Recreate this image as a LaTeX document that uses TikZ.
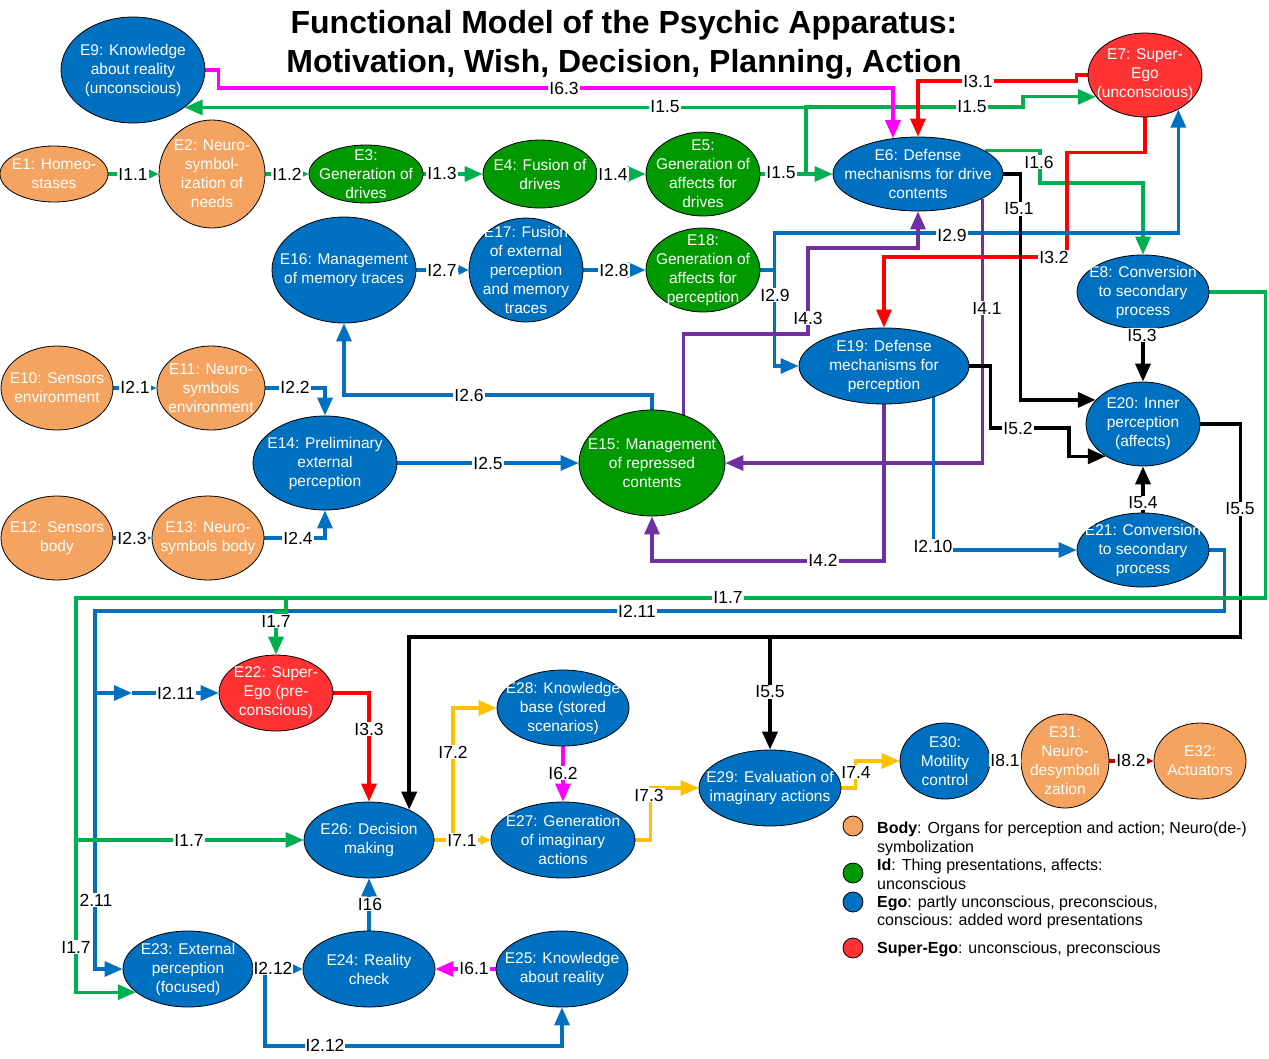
\documentclass[tikz,border=0pt]{standalone}
\usepackage{fontspec}
\setmainfont{Liberation Sans}
\usetikzlibrary{shapes.geometric,arrows.meta}

\definecolor{bodyc}{HTML}{F4A460}
\definecolor{idc}{HTML}{009900}
\definecolor{egoc}{HTML}{0070C0}
\definecolor{supc}{HTML}{FF3333}
\definecolor{cgreen}{HTML}{00B050}
\definecolor{cblue}{HTML}{0070C0}
\definecolor{cmag}{HTML}{FF00FF}
\definecolor{cred}{HTML}{FF0000}
\definecolor{cpurp}{HTML}{7030A0}
\definecolor{cyel}{HTML}{FFC000}
\definecolor{cdred}{HTML}{C00000}

\pgfdeclarelayer{edges}
\pgfdeclarelayer{labels}
\pgfsetlayers{edges,main,labels}

\tikzset{
  entshape/.style={ellipse,draw=black,line width=0.8pt,inner sep=0pt},
  enttext/.style={text=white,align=center,inner sep=0pt,font=\fontsize{15.5}{19}\selectfont},
  lbl/.style={fill=white,inner sep=1pt,text=black,font=\fontsize{17.5}{19}\selectfont},
  conn/.style={line width=3.2pt},
  bconn/.style={line width=3.6pt},
  big/.style={-{Triangle[length=18pt,width=15pt]}},
  sml/.style={-{Triangle[length=10pt,width=9pt]}},
  legdot/.style={circle,draw=black,line width=0.8pt,minimum size=20pt,inner sep=0pt},
  legtext/.style={anchor=base west,inner sep=0pt,font=\fontsize{16}{19}\selectfont},
}

% entity: name, x, y, rx, ry, fill, text
\newcommand\psyent[7]{%
  \node[entshape,fill=#6,minimum width=2*#4pt,minimum height=2*#5pt] (#1) at (#2,#3) {};
  \node[enttext] (#1-t) at (#1.center) {#7};}
% connector label: name, x, y, text
\newcommand\conlabel[4]{\node[lbl] (#1) at (#2,#3) {#4};}

\begin{document}
\begin{tikzpicture}[x=1pt,y=-1pt]
\useasboundingbox (0,0) rectangle (1269,1058);

% ---------- title ----------
\node[anchor=base,inner sep=0pt,font=\fontsize{32}{38}\selectfont\bfseries] (title1) at (624,33) {Functional Model of the Psychic Apparatus:};
\node[anchor=base,inner sep=0pt,font=\fontsize{32}{38}\selectfont\bfseries] (title2) at (624,72) {Motivation, Wish, Decision, Planning, Action};

% ---------- entities ----------
\psyent{E9}{133}{70}{72}{53}{egoc}{E9: Knowledge\\about reality\\(unconscious)}
\psyent{E1}{54}{174}{54}{28}{bodyc}{E1: Homeo-\\stases}
\psyent{E2}{212}{174}{53}{54}{bodyc}{E2: Neuro-\\symbol-\\ization of\\needs}
\psyent{E3}{366}{174}{57}{29}{idc}{E3:\\Generation of\\drives}
\psyent{E4}{540}{174}{57}{34}{idc}{E4: Fusion of\\drives}
\psyent{E5}{703}{174}{57}{42}{idc}{E5:\\Generation of\\affects for\\drives}
\psyent{E6}{918}{174}{85}{37}{egoc}{E6: Defense\\mechanisms for drive\\contents}
\psyent{E7}{1145}{75}{57}{42}{supc}{E7: Super-\\Ego\\(unconscious)}
\psyent{E8}{1143}{292}{66}{37}{egoc}{E8: Conversion\\to secondary\\process}
\psyent{E16}{344}{270}{72}{53}{egoc}{E16: Management\\of memory traces}
\psyent{E17}{526}{270}{57}{52}{egoc}{E17: Fusion\\of external\\perception\\and memory\\traces}
\psyent{E18}{703}{270}{57}{42}{idc}{E18:\\Generation of\\affects for\\perception}
\psyent{E19}{884}{366}{85}{38}{egoc}{E19: Defense\\mechanisms for\\perception}
\psyent{E20}{1143}{424}{57}{42}{egoc}{E20: Inner\\perception\\(affects)}
\psyent{E21}{1143}{550}{66}{37}{egoc}{E21: Conversion\\to secondary\\process}
\psyent{E10}{57}{388}{56}{42}{bodyc}{E10: Sensors\\environment}
\psyent{E11}{211}{388}{54}{42}{bodyc}{E11: Neuro-\\symbols\\environment}
\psyent{E12}{57}{538}{56}{42}{bodyc}{E12: Sensors\\body}
\psyent{E13}{208}{538}{56}{42}{bodyc}{E13: Neuro-\\symbols body}
\psyent{E14}{325}{463}{72}{47}{egoc}{E14: Preliminary\\external\\perception}
\psyent{E15}{652}{463}{73}{53}{idc}{E15: Management\\of repressed\\contents}
\psyent{E22}{276}{693}{57}{38}{supc}{E22: Super-\\Ego (pre-\\conscious)}
\psyent{E26}{369}{840}{65}{38}{egoc}{E26: Decision\\making}
\psyent{E23}{188}{969}{65}{38}{egoc}{E23: External\\perception\\(focused)}
\psyent{E24}{369}{969}{66}{38}{egoc}{E24: Reality\\check}
\psyent{E25}{562}{969}{66}{38}{egoc}{E25: Knowledge\\about reality}
\psyent{E28}{563}{708}{66}{38}{egoc}{E28: Knowledge\\base (stored\\scenarios)}
\psyent{E27}{563}{840}{72}{38}{egoc}{E27: Generation\\of imaginary\\actions}
\psyent{E29}{770}{788}{71}{38}{egoc}{E29: Evaluation of\\imaginary actions}
\psyent{E30}{945}{761}{45}{38}{egoc}{E30:\\Motility\\control}
\psyent{E31}{1065}{761}{44}{47}{bodyc}{E31:\\Neuro-\\desymboli\\zation}
\psyent{E32}{1200}{761}{46}{38}{bodyc}{E32:\\Actuators}

% ---------- connectors ----------
\begin{pgfonlayer}{edges}
\fill[white] (0,0) rectangle (1269,1058);

% drive chain
\draw[conn,cgreen,sml] (E1.east) -- (E2.west);
\draw[conn,cgreen,sml] (E2.east) -- (E3.west);
\draw[conn,cgreen,big] (E3.east) -- (E4.west);
\draw[conn,cgreen,big] (E4.east) -- (E5.west);
\draw[conn,cgreen,big] (E5.east) -- (E6.west);
\coordinate (j15) at (806,174);
\draw[conn,cgreen,big] (j15) |- (E9.-36);
\draw[conn,cgreen,big] (j15) |- (1023,107) |- (E7.204);

% knowledge and super-ego into defense
\draw[conn,cmag,big] (E9.east) -- ++(13,0) |- (E6.125 |- 0,88) -- (E6.125);
\draw[conn,cred,big] (E7.west) -- ++(-11,0) |- (E6.north |- 0,81) -- (E6.north);
\draw[conn,cgreen,big] (E6.19) -| (1040,183) -| (E8.north);
\draw[conn,cred,big] (E7.south) -- ++(0,35) -| (1067,257) -| (E19.north);

% perception affects
\draw[conn,cblue] (E18.east) -- ++(14,0) coordinate (j29);
\draw[conn,cblue,big] (j29) |- (E7.-46 |- 0,233) -- (E7.-46);
\draw[conn,cblue,big] (j29) |- (E19.west);

% repression
\draw[conn,cpurp,big] (E15.57) |- (808,334) |- (E6.south |- 0,248) -- (E6.south);
\draw[conn,cpurp,big] (E6.-21) |- (E15.east);
\draw[conn,cpurp,big] (E19.south) |- (E15.south |- 0,561) -- (E15.south);

% inner perception
\draw[bconn,black,big] (E6.east) -- ++(17,0) |- (E20.153);
\draw[bconn,black,big] (E19.east) -- ++(21,0) |- (1069,428) |- (E20.221);
\draw[bconn,black,big] (E8.south) -- (E20.north);
\draw[bconn,black,big] (E21.north) -- (E20.south);
\draw[bconn,black,big] (E20.east) -- ++(40,0) |- (E26.37 |- 0,637) -- (E26.37);
\coordinate (j55) at (E29.north |- 0,637);
\draw[bconn,black,big] (j55) -- (E29.north);

% external perception
\draw[conn,cblue,sml] (E10.east) -- (E11.west);
\draw[conn,cblue,big] (E11.east) -| (E14.north);
\draw[conn,cblue,sml] (E12.east) -- (E13.west);
\draw[conn,cblue,big] (E13.east) -| (E14.south);
\draw[conn,cblue,big] (E14.east) -- (E15.west);
\draw[conn,cblue,big] (E15.north) -- (E15.north |- 0,395) -| (E16.south);
\draw[conn,cblue,sml] (E16.east) -- (E17.west);
\draw[conn,cblue,big] (E17.east) -- (E18.west);
\draw[conn,cblue,big] (E19.-32) |- (E21.west);

% secondary process outputs
\draw[conn,cblue,big] (E21.east) -- ++(15,0) |- (95,611) |- (E23.west);
\coordinate (j211) at (95,693);
\coordinate (m211) at (132,693);
\draw[conn,cblue,big] (j211) -- (m211);
\draw[conn,cblue,big] (m211) -- (E22.west);
\draw[conn,cgreen,big] (E8.east) -- ++(56,0) |- (76,598) |- (E23.204);
\coordinate (j17a) at (286,598);
\draw[conn,cgreen,big] (j17a) -- ++(0,14) -| (E22.north);
\coordinate (j17b) at (76,840);
\draw[conn,cgreen,big] (j17b) -- (E26.west);

% decision and action
\draw[conn,cred,big] (E22.east) -| (E26.north);
\draw[conn,cblue,big] (E24.north) -- (E26.south);
\draw[conn,cblue,sml] (E23.east) -- (E24.west);
\coordinate (j212) at (265,969);
\draw[conn,cblue,big] (j212) |- (E25.south |- 0,1046) -- (E25.south);
\draw[conn,cmag,big] (E25.west) -- (E24.east);
\draw[conn,cyel,sml] (E26.east) -- (E27.west);
\coordinate (j71) at (453,840);
\draw[conn,cyel,big] (j71) |- (E28.west);
\draw[conn,cmag,big] (E28.south) -- (E27.north);
\draw[conn,cyel,big] (E27.east) -- ++(15,0) |- (E29.west);
\draw[conn,cyel,big] (E29.east) -- ++(14,0) |- (E30.west);
\draw[conn,cdred,sml] (E30.east) -- (E31.west);
\draw[conn,cdred,sml] (E31.east) -- (E32.west);
\end{pgfonlayer}

% ---------- connector labels ----------
\begin{pgfonlayer}{labels}
\conlabel{L1}{133}{174}{I1.1}
\conlabel{L2}{287}{174}{I1.2}
\conlabel{L3}{442}{173}{I1.3}
\conlabel{L4}{613}{174}{I1.4}
\conlabel{L5}{781}{173}{I1.5}
\conlabel{L6}{665}{107}{I1.5}
\conlabel{L7}{972}{107}{I1.5}
\conlabel{L8}{564}{88}{I6.3}
\conlabel{L9}{978}{81}{I3.1}
\conlabel{L10}{1039}{162}{I1.6}
\conlabel{L11}{1019}{209}{I5.1}
\conlabel{L12}{1054}{257}{I3.2}
\conlabel{L13}{952}{235}{I2.9}
\conlabel{L14}{775}{295}{I2.9}
\conlabel{L15}{808}{318}{I4.3}
\conlabel{L16}{987}{308}{I4.1}
\conlabel{L17}{442}{270}{I2.7}
\conlabel{L18}{614}{270}{I2.8}
\conlabel{L19}{1142}{335}{I5.3}
\conlabel{L20}{135}{387}{I2.1}
\conlabel{L21}{295}{387}{I2.2}
\conlabel{L22}{469}{395}{I2.6}
\conlabel{L23}{1018}{428}{I5.2}
\conlabel{L24}{488}{463}{I2.5}
\conlabel{L25}{1143}{503}{I5.4}
\conlabel{L26}{1240}{509}{I5.5}
\conlabel{L27}{132}{538}{I2.3}
\conlabel{L28}{298}{538}{I2.4}
\conlabel{L29}{933}{546}{I2.10}
\conlabel{L30}{823}{560}{I4.2}
\conlabel{L31}{728}{597}{I1.7}
\conlabel{L32}{637}{611}{I2.11}
\conlabel{L33}{276}{621}{I1.7}
\conlabel{L34}{176}{693}{I2.11}
\conlabel{L35}{770}{692}{I5.5}
\conlabel{L36}{369}{729}{I3.3}
\conlabel{L37}{453}{752}{I7.2}
\conlabel{L38}{563}{773}{I6.2}
\conlabel{L39}{856}{772}{I7.4}
\conlabel{L40}{649}{795}{I7.3}
\conlabel{L41}{1005}{760}{I8.1}
\conlabel{L42}{1131}{760}{I8.2}
\conlabel{L43}{189}{840}{I1.7}
\conlabel{L44}{462}{840}{I7.1}
\conlabel{L45}{96}{900}{2.11}
\conlabel{L46}{370}{904}{I16}
\conlabel{L47}{76}{947}{I1.7}
\conlabel{L48}{273}{968}{I2.12}
\conlabel{L49}{474}{968}{I6.1}
\conlabel{L50}{325}{1045}{I2.12}
\end{pgfonlayer}

% ---------- legend ----------
\node[legdot,fill=bodyc] (lg1) at (853,826) {};
\node[legdot,fill=idc] (lg2) at (853,873) {};
\node[legdot,fill=egoc] (lg3) at (853,902) {};
\node[legdot,fill=supc] (lg4) at (853,948) {};
\node[legtext] (lg1a) at (877,833) {\textbf{Body}: Organs for perception and action; Neuro(de-)};
\node[legtext] (lg1b) at (877,852) {symbolization};
\node[legtext] (lg2a) at (877,870) {\textbf{Id}: Thing presentations, affects:};
\node[legtext] (lg2b) at (877,889) {unconscious};
\node[legtext] (lg3a) at (877,907) {\textbf{Ego}: partly unconscious, preconscious,};
\node[legtext] (lg3b) at (877,925) {conscious: added word presentations};
\node[legtext] (lg4a) at (877,953) {\textbf{Super-Ego}: unconscious, preconscious};
\end{tikzpicture}
\end{document}
